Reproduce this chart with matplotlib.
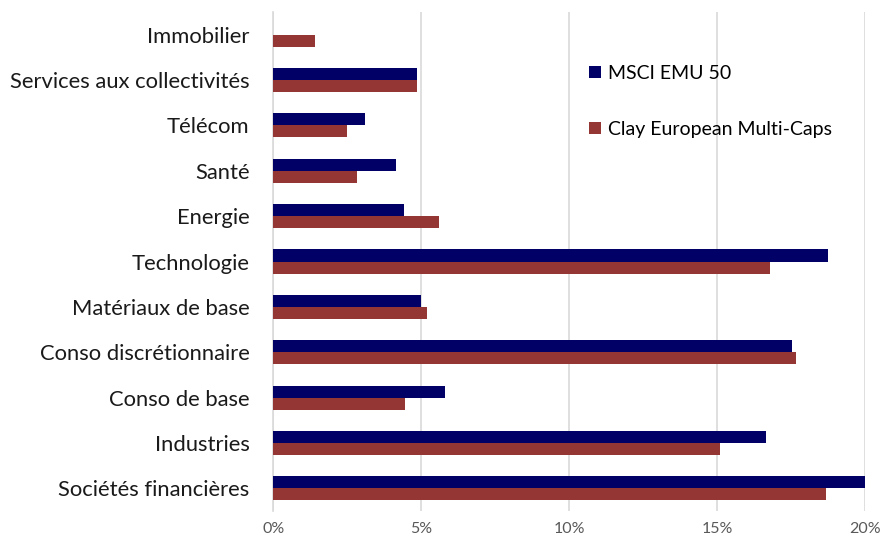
import matplotlib.pyplot as plt
import numpy as np
from matplotlib.ticker import PercentFormatter

plt.rcParams['font.family'] = ['Lato', 'DejaVu Sans']

# secteurs, du bas vers le haut
secteurs = ["Sociétés financières", "Industries", "Conso de base",
            "Conso discrétionnaire", "Matériaux de base", "Technologie",
            "Energie", "Santé", "Télécom", "Services aux collectivités",
            "Immobilier"]
msci = [19.99, 16.64, 5.82, 17.54, 4.98, 18.76, 4.43, 4.16, 3.12, 4.87, 0.0]
clay = [18.68, 15.11, 4.45, 17.68, 5.21, 16.79, 5.62, 2.83, 2.51, 4.87, 1.43]

y = np.arange(len(secteurs))
h = 0.265

fig = plt.figure(figsize=(8.84, 5.42), dpi=100)
ax = fig.add_axes([0.309, 0.057, 0.6695, 0.921])

ax.barh(y + h / 2, np.array(msci) / 100, height=h, color="#000066",
        label="MSCI EMU 50", zorder=3)
ax.barh(y - h / 2, np.array(clay) / 100, height=h, color="#943634",
        label="Clay European Multi-Caps", zorder=3)

ax.set_xlim(0, 0.20)
ax.set_ylim(-0.5, len(secteurs) - 0.5)
ax.set_xticks([0, 0.05, 0.10, 0.15, 0.20])
ax.xaxis.set_major_formatter(PercentFormatter(1.0, decimals=0))
ax.set_yticks(y)
ax.set_yticklabels(secteurs, fontsize=15.8, color="#1a1a1a")
ax.tick_params(axis="x", labelsize=11.5, labelcolor="#595959", length=0, pad=8)
ax.tick_params(axis="y", length=0, pad=17)
ax.grid(axis="x", color="#d9d9d9", linewidth=1.2, zorder=0)
for s in ["top", "right", "bottom"]:
    ax.spines[s].set_visible(False)
ax.spines["left"].set_color("#d9d9d9")
ax.spines["left"].set_linewidth(1.2)

ax.legend(loc="upper left", bbox_to_anchor=(0.658, 0.895),
          bbox_transform=fig.transFigure, frameon=False, fontsize=14,
          handlelength=0.6, handleheight=0.6, handletextpad=0.35,
          labelspacing=2.0, borderaxespad=0)

fig.savefig("out.png", dpi=100)
